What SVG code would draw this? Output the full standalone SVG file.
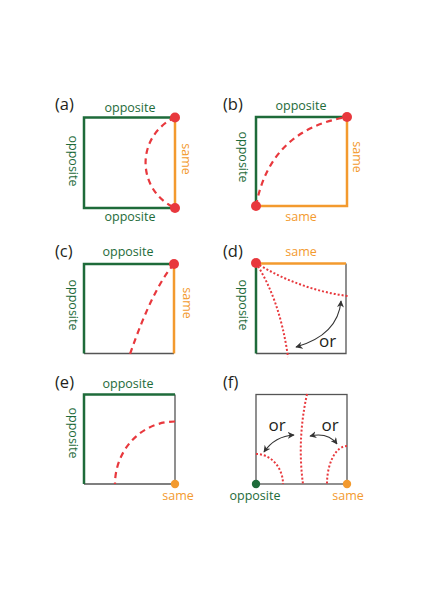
<svg xmlns="http://www.w3.org/2000/svg" width="436" height="612" viewBox="0 0 436 612">
<defs>
<style>
text{font-family:"Open Sans","Noto Sans","Liberation Sans",sans-serif;}
.lbl{font-size:16.5px;fill:#231f20;}
.g{font-size:12.5px;fill:#1e6b3a;}
.o{font-size:12.5px;fill:#f39a2e;}
.or{font-size:17px;fill:#231f20;}
.eg{stroke:#1e6b3a;stroke-width:2.5;fill:none;}
.eo{stroke:#f39a2e;stroke-width:2.5;fill:none;}
.ek{stroke:#555;stroke-width:1.3;fill:none;}
.dash{stroke:#e8383d;stroke-width:2.2;fill:none;stroke-dasharray:6,4.5;}
.dot{stroke:#e8383d;stroke-width:2;fill:none;stroke-dasharray:2,2;}
.arr{stroke:#333;stroke-width:1.1;fill:none;marker-start:url(#ah);marker-end:url(#ah);}
.rd{fill:#e8383d;}
</style>
<marker id="ah" viewBox="0 0 10 10" refX="9" refY="5" markerWidth="7" markerHeight="7" markerUnits="userSpaceOnUse" orient="auto-start-reverse">
<path d="M0,0 L10,5 L0,10 L3,5 z" fill="#333"/>
</marker>
</defs>

<g id="panel-a">
<text class="lbl" x="55" y="110">(a)</text>
<path class="eg" d="M175,117.5 H84 V208 H175"/>
<path class="eo" d="M175,117.5 V208"/>
<path class="dash" d="M175,117.5 A49.5,49.5 0 0 0 175,208"/>
<circle class="rd" cx="175" cy="117.5" r="5"/>
<circle class="rd" cx="175" cy="208" r="5"/>
<text class="g" x="130" y="112" text-anchor="middle">opposite</text>
<text class="g" x="130" y="221" text-anchor="middle">opposite</text>
<text class="g" transform="translate(68.5,161) rotate(90)" text-anchor="middle">opposite</text>
<text class="o" transform="translate(181.5,159) rotate(90)" text-anchor="middle">same</text>
</g>

<g id="panel-b">
<text class="lbl" x="223" y="110">(b)</text>
<path class="eg" d="M256,206 V117 H347"/>
<path class="eo" d="M347,117 V206 H256"/>
<path class="dash" d="M256,206 Q270,130 347,117"/>
<circle class="rd" cx="347" cy="117" r="5"/>
<circle class="rd" cx="256" cy="206" r="5"/>
<text class="g" x="301" y="110" text-anchor="middle">opposite</text>
<text class="o" x="301" y="221" text-anchor="middle">same</text>
<text class="g" transform="translate(239,157) rotate(90)" text-anchor="middle">opposite</text>
<text class="o" transform="translate(353,157) rotate(90)" text-anchor="middle">same</text>
</g>

<g id="panel-c">
<text class="lbl" x="55" y="257">(c)</text>
<path class="ek" d="M84,353.5 H174"/>
<path class="eg" d="M84,353.5 V264 H174"/>
<path class="eo" d="M174,264 V353.5"/>
<path class="dash" d="M174,264 Q153,288 130,354"/>
<circle class="rd" cx="174" cy="264" r="5"/>
<text class="g" x="128" y="256" text-anchor="middle">opposite</text>
<text class="g" transform="translate(68.5,305) rotate(90)" text-anchor="middle">opposite</text>
<text class="o" transform="translate(182.5,303) rotate(90)" text-anchor="middle">same</text>
</g>

<g id="panel-d">
<text class="lbl" x="223" y="257">(d)</text>
<path class="ek" d="M346,263.5 V353.5 H256"/>
<path class="eo" d="M256,263.5 H346"/>
<path class="eg" d="M256,263.5 V353.5"/>
<path class="dot" d="M256,263 Q300,290 348,296"/>
<path class="dot" d="M256,263 Q280,300 288,357"/>
<circle class="rd" cx="256" cy="263" r="5"/>
<path class="arr" d="M296,347 Q338,335 341,301"/>
<text class="or" x="319" y="347">or</text>
<text class="o" x="301" y="256" text-anchor="middle">same</text>
<text class="g" transform="translate(239,305) rotate(90)" text-anchor="middle">opposite</text>
</g>

<g id="panel-e">
<text class="lbl" x="55" y="388">(e)</text>
<path class="ek" d="M175,394.5 V484 H84"/>
<path class="eg" d="M84,484 V394.5 H175"/>
<path class="dash" d="M175,421.5 A60,62.5 0 0 0 115,484"/>
<circle cx="175" cy="484" r="4.2" fill="#f39a2e"/>
<text class="g" x="128" y="388" text-anchor="middle">opposite</text>
<text class="g" transform="translate(68.5,433) rotate(90)" text-anchor="middle">opposite</text>
<text class="o" x="178" y="500" text-anchor="middle">same</text>
</g>

<g id="panel-f">
<text class="lbl" x="223" y="388">(f)</text>
<rect class="ek" x="256" y="394.5" width="91" height="89.5"/>
<path class="dot" d="M307,394 Q297,440 303,484"/>
<path class="dot" d="M256,454 A27,30 0 0 1 283,484"/>
<path class="dot" d="M347,446 A20,38 0 0 0 327,484"/>
<path class="arr" d="M264,452 Q275,436 294,435"/>
<path class="arr" d="M310,436 Q328,432 337,444"/>
<text class="or" x="277" y="431" text-anchor="middle">or</text>
<text class="or" x="330" y="431" text-anchor="middle">or</text>
<circle cx="256" cy="484" r="4.2" fill="#1e6b3a"/>
<circle cx="347" cy="484" r="4.2" fill="#f39a2e"/>
<text class="g" x="255" y="500" text-anchor="middle">opposite</text>
<text class="o" x="348" y="500" text-anchor="middle">same</text>
</g>
</svg>
